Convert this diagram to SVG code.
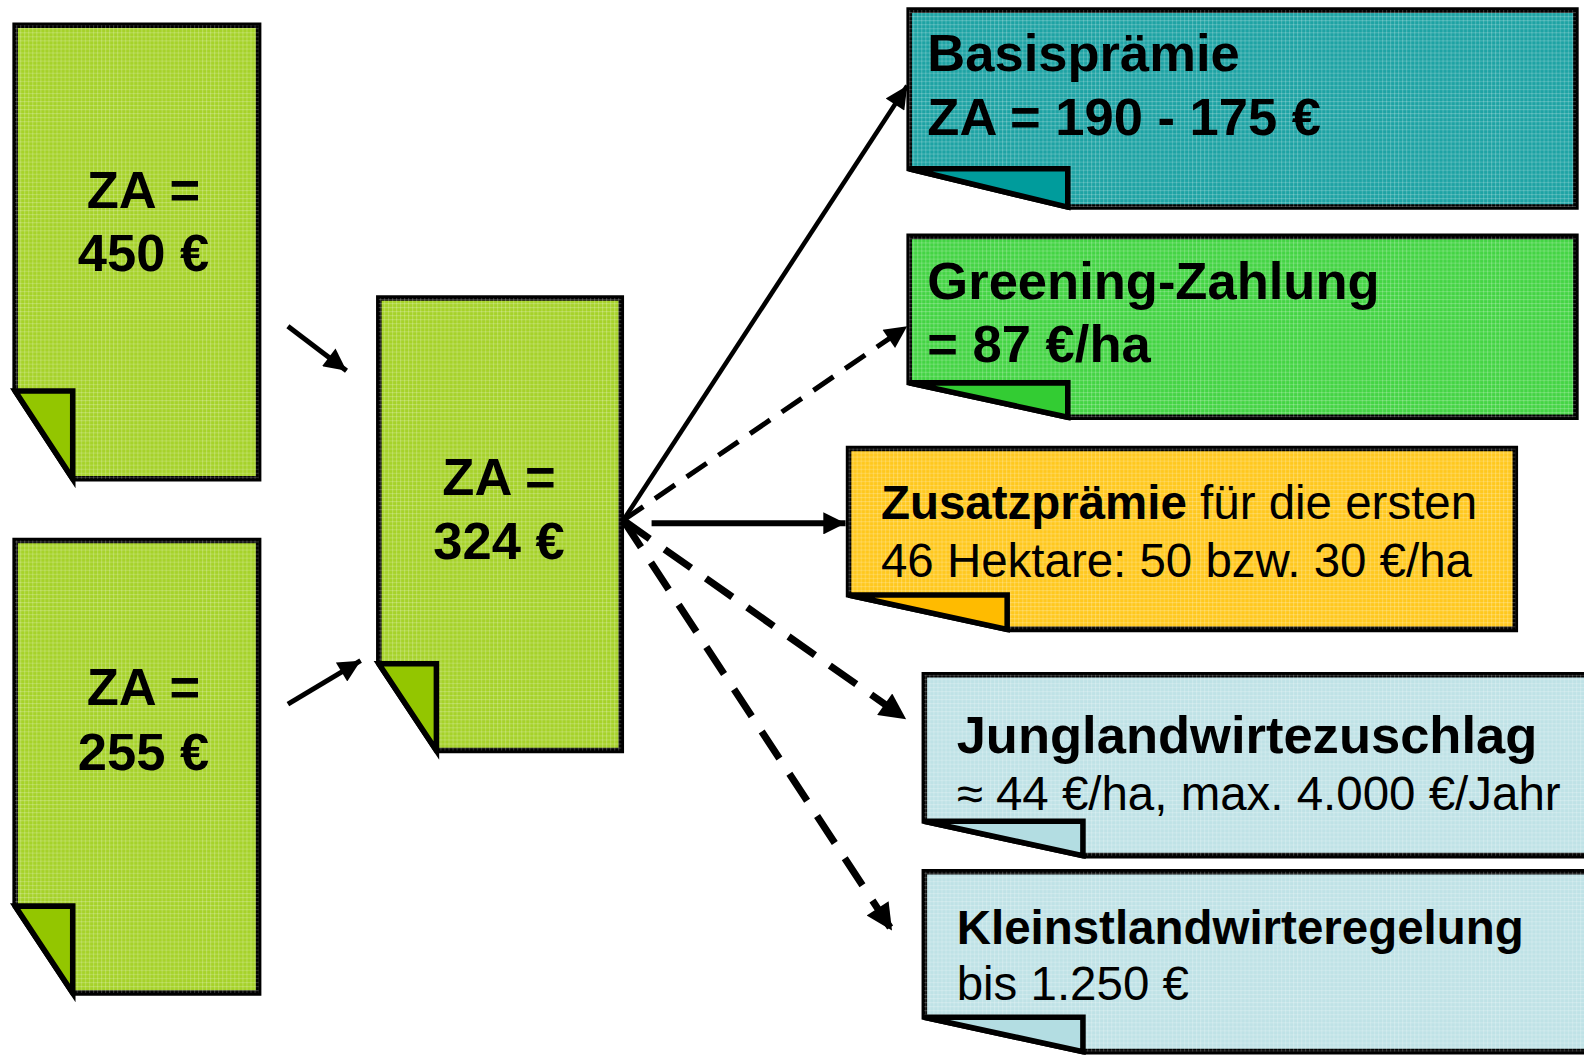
<svg xmlns="http://www.w3.org/2000/svg" width="1584" height="1056" viewBox="0 0 1584 1056">
<defs>
<pattern id="tex" width="4" height="4" patternUnits="userSpaceOnUse">
<rect x="0" y="0" width="4" height="1" fill="#fff" fill-opacity="0.22"/>
<rect x="0" y="0" width="1" height="4" fill="#fff" fill-opacity="0.22"/>
</pattern>
<marker id="ah" viewBox="0 0 10 10" refX="10" refY="5" markerWidth="26" markerHeight="22" markerUnits="userSpaceOnUse" orient="auto">
<path d="M0,0 L10,5 L0,10 Z" fill="#000"/>
</marker>
<marker id="ahb" viewBox="0 0 10 10" refX="10" refY="5" markerWidth="30" markerHeight="26" markerUnits="userSpaceOnUse" orient="auto">
<path d="M0,0 L10,5 L0,10 Z" fill="#000"/>
</marker>
</defs>
<style>
.b{stroke:#000;stroke-width:5.5;stroke-linejoin:miter}
.t{fill:url(#tex);stroke:none}
.lg{fill:#a6d22a}.lgf{fill:#93c600}
.tl{fill:#1ea3a4}.tlf{fill:#009c9c}
.gr{fill:#44d444}.grf{fill:#33cc33}
.ye{fill:#ffc81e}.yef{fill:#ffbb00}
.lb{fill:#bfe2e6}.lbf{fill:#b3dde2}
text{font-family:"Liberation Sans",Arial,sans-serif;fill:#000}
.bt{font-weight:bold}
.c{stroke:#000;fill:none}
</style>
<rect width="1584" height="1056" fill="#fff"/>
<g transform="scale(1.0102)">

<g id="za450">
<path class="b lg" d="M15,25 H256 V474 H72 L15,387 Z"/>
<path class="t" d="M15,25 H256 V474 H72 L15,387 Z"/>
<path class="b lgf" d="M15,387 H72 V474 Z"/>
<text class="bt" x="142" y="206" font-size="52" text-anchor="middle">ZA =</text>
<text class="bt" x="142" y="268" font-size="52" text-anchor="middle">450 €</text>
</g>

<g id="za255">
<path class="b lg" d="M15,535 H256 V983 H72 L15,897 Z"/>
<path class="t" d="M15,535 H256 V983 H72 L15,897 Z"/>
<path class="b lgf" d="M15,897 H72 V983 Z"/>
<text class="bt" x="142" y="698" font-size="52" text-anchor="middle">ZA =</text>
<text class="bt" x="142" y="762" font-size="52" text-anchor="middle">255 €</text>
</g>

<g id="za324">
<path class="b lg" d="M375,295 H615 V743 H432 L375,657 Z"/>
<path class="t" d="M375,295 H615 V743 H432 L375,657 Z"/>
<path class="b lgf" d="M375,657 H432 V743 Z"/>
<text class="bt" x="494" y="490" font-size="52" text-anchor="middle">ZA =</text>
<text class="bt" x="494" y="553" font-size="52" text-anchor="middle">324 €</text>
</g>

<g id="basis">
<path class="b tl" d="M900,10 H1560 V205 H1057 L900,167 Z"/>
<path class="t" d="M900,10 H1560 V205 H1057 L900,167 Z"/>
<path class="b tlf" d="M900,167 H1057 V205 Z"/>
<text class="bt" x="918" y="70" font-size="52">Basisprämie</text>
<text class="bt" x="918" y="134" font-size="52">ZA = 190 - 175 €</text>
</g>

<g id="greening">
<path class="b gr" d="M900,234 H1560 V413 H1057 L900,379 Z"/>
<path class="t" d="M900,234 H1560 V413 H1057 L900,379 Z"/>
<path class="b grf" d="M900,379 H1057 V413 Z"/>
<text class="bt" x="918" y="296" font-size="52">Greening-Zahlung</text>
<text class="bt" x="918" y="358" font-size="52">= 87 €/ha</text>
</g>

<g id="zusatz">
<path class="b ye" d="M840,444 H1500 V623 H997 L840,589 Z"/>
<path class="t" d="M840,444 H1500 V623 H997 L840,589 Z"/>
<path class="b yef" d="M840,589 H997 V623 Z"/>
<text x="872" y="514" font-size="47"><tspan class="bt">Zusatzprämie</tspan> für die ersten</text>
<text x="872" y="571" font-size="47">46 Hektare: 50 bzw. 30 €/ha</text>
</g>

<g id="jung">
<path class="b lb" d="M915,668 H1600 V847 H1072 L915,813 Z"/>
<path class="t" d="M915,668 H1600 V847 H1072 L915,813 Z"/>
<path class="b lbf" d="M915,813 H1072 V847 Z"/>
<text class="bt" x="947" y="745" font-size="52">Junglandwirtezuschlag</text>
<text x="947" y="802" font-size="47">≈ 44 €/ha, max. 4.000 €/Jahr</text>
</g>

<g id="klein">
<path class="b lb" d="M915,863 H1600 V1041 H1072 L915,1007 Z"/>
<path class="t" d="M915,863 H1600 V1041 H1072 L915,1007 Z"/>
<path class="b lbf" d="M915,1007 H1072 V1041 Z"/>
<text class="bt" x="947" y="934" font-size="47">Kleinstlandwirteregelung</text>
<text x="947" y="990" font-size="47">bis 1.250 €</text>
</g>

<g id="connectors">
<line class="c" x1="285" y1="323" x2="343" y2="367" stroke-width="5" marker-end="url(#ah)"/>
<line class="c" x1="285" y1="697" x2="357" y2="654" stroke-width="5" marker-end="url(#ah)"/>
<line class="c" x1="617" y1="515" x2="898" y2="85" stroke-width="4.5" marker-end="url(#ah)"/>
<line class="c" x1="617" y1="515" x2="898" y2="323" stroke-width="5" stroke-dasharray="24 14" marker-end="url(#ah)"/>
<line class="c" x1="645" y1="518" x2="837" y2="518" stroke-width="6" marker-end="url(#ah)"/>
<line class="c" x1="617" y1="515" x2="897" y2="712" stroke-width="7" stroke-dasharray="32 18" marker-end="url(#ahb)"/>
<line class="c" x1="617" y1="515" x2="883" y2="921" stroke-width="7" stroke-dasharray="32 18" marker-end="url(#ahb)"/>
</g>
</g>
</svg>
